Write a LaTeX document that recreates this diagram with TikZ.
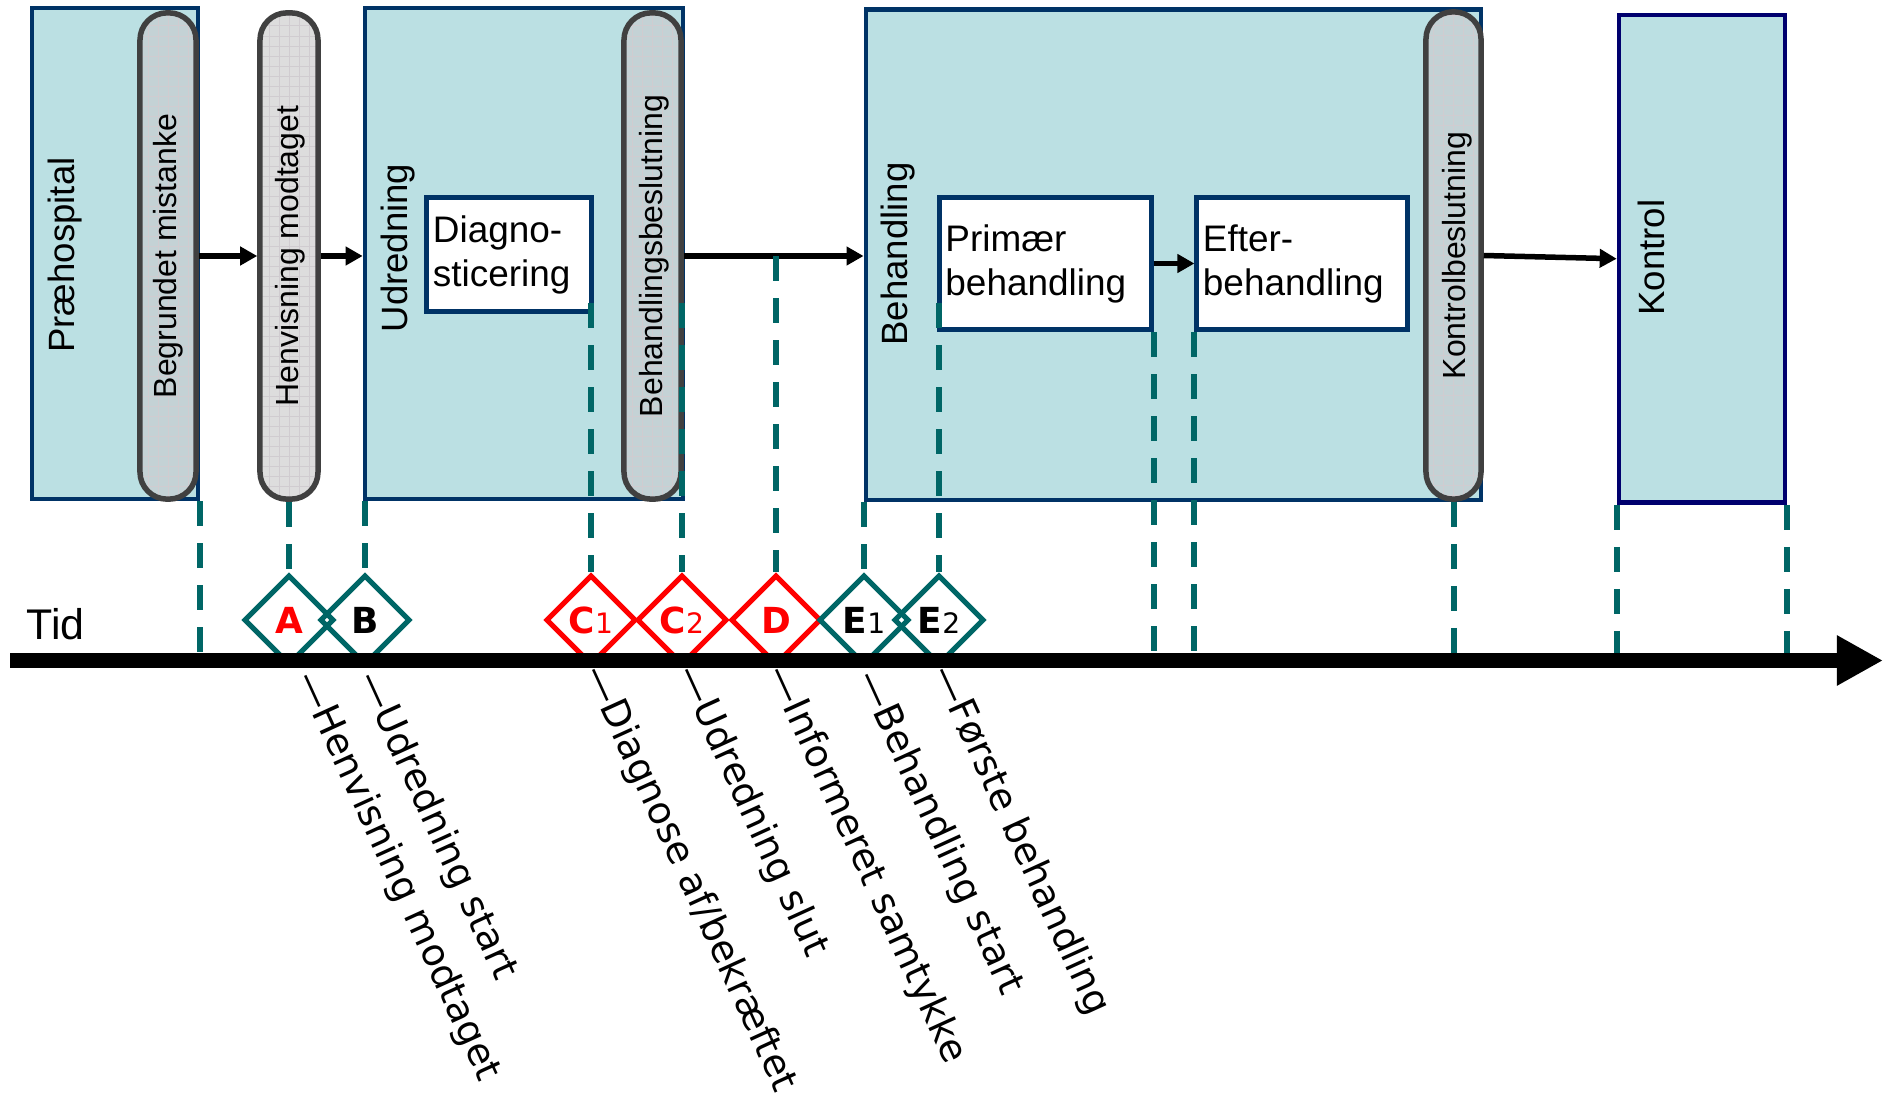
\documentclass[tikz,border=0pt]{standalone}
\usepackage{fontspec}
\setmainfont{Liberation Sans}
\newfontfamily\dejavu{DejaVu Sans}
\usetikzlibrary{shapes.geometric, arrows.meta, calc}

\definecolor{phasefill}{RGB}{187,224,227}
\definecolor{phaseline}{RGB}{0,51,102}
\definecolor{kontrolline}{RGB}{0,0,110}
\definecolor{gatefill}{RGB}{196,210,213}
\definecolor{gatelight}{RGB}{221,221,221}
\definecolor{gateline}{RGB}{64,64,64}
\definecolor{gridline}{RGB}{208,204,208}
\definecolor{msteal}{RGB}{0,102,102}
\definecolor{msred}{RGB}{255,0,0}

\newcommand{\msidx}[1]{{\fontsize{8}{8}\selectfont\mdseries #1}}

\begin{document}
\begin{tikzpicture}[x=0.01cm, y=-0.01cm,
	phase/.style={rectangle, draw=phaseline, fill=phasefill, line width=0.045cm},
	task/.style={rectangle, draw=phaseline, fill=white, line width=0.05cm, align=left, inner xsep=0.06cm, inner ysep=0, font=\fontsize{10.5}{12.5}\selectfont},
	gate/.style={rectangle, draw=gateline, fill=gatefill, line width=0.055cm, rounded corners=0.27cm,
		path picture={\draw[gridline, line width=0.2pt, step=0.1cm] (path picture bounding box.south west) grid (path picture bounding box.north east);}},
	vlabel/.style={rotate=90, inner sep=0, font=\fontsize{10.4}{12}\selectfont},
	glabel/.style={rotate=90, inner sep=0, font=\fontsize{9.1}{11}\selectfont},
	flow/.style={line width=0.055cm, -{Triangle[length=0.17cm, width=0.18cm]}},
	timeline/.style={line width=0.15cm, -{Triangle[length=0.46cm, width=0.47cm]}},
	guide/.style={draw=msteal, line width=0.06cm, dash pattern=on 0.25cm off 0.17cm},
	ms/.style={diamond, draw=msteal, line width=0.05cm, minimum width=0.9cm, minimum height=0.9cm, inner sep=0, font=\dejavu\bfseries\fontsize{10.2}{12}\selectfont},
	msr/.style={ms, draw=msred, text=msred},
	evlabel/.style={rotate=-65.5, anchor=west, inner sep=0, font=\dejavu\fontsize{10.75}{13}\selectfont}
]

\useasboundingbox (0, 0) rectangle (1890, 1097);

\node(0) [phase, minimum width=1.66cm, minimum height=4.91cm] at (115, 253.5) {};
\node(0t) [vlabel] at (65, 255) {Præhospital};
\node(1) [gate, minimum width=0.56cm, minimum height=4.86cm] at (168, 256) {};
\node(1t) [glabel] at (168, 256) {Begrundet mistanke};

\node(2) [gate, fill=gatelight, minimum width=0.58cm, minimum height=4.86cm] at (289, 256) {};
\node(2t) [glabel] at (290, 256) {Henvisning modtaget};

\node(3) [phase, minimum width=3.18cm, minimum height=4.91cm] at (524, 253.5) {};
\node(3t) [vlabel] at (398, 248) {Udredning};
\node(4) [task, text width=1.52cm, minimum height=1.14cm] at (509, 254.5) {Diagno-\\sticering};
\node(5) [gate, minimum width=0.57cm, minimum height=4.86cm] at (652.5, 256) {};
\node(5t) [glabel] at (654, 256) {Behandlingsbeslutning};

\node(6) [phase, minimum width=6.15cm, minimum height=4.905cm] at (1173.5, 254.75) {};
\node(6t) [vlabel] at (898, 254) {Behandling};
\node(7) [task, text width=1.995cm, minimum height=1.32cm] at (1045.25, 263.5) {Primær\\behandling};
\node(8) [task, text width=1.98cm, minimum height=1.32cm] at (1302, 263.5) {Efter-\\behandling};
\node(9) [gate, minimum width=0.55cm, minimum height=4.87cm] at (1453.5, 255.5) {};
\node(9t) [glabel] at (1457, 255.5) {Kontrolbeslutning};

\node(10) [phase, draw=kontrolline, minimum width=1.66cm, minimum height=4.875cm] at (1702, 258.75) {};
\node(10t) [vlabel] at (1651, 257.5) {Kontrol};

\draw [flow] (1.east) -- (2.west);
\draw [flow] (2.east) -- (2.east -| 3.west);
\draw [flow] (5.east) -- (5.east -| 6.west);
\draw [flow] (7.east) -- (8.west);
\draw [flow] (9.east) -- (10.west);

\coordinate (t0) at (10, 660.5);
\coordinate (t1) at (1883, 660.5);
\coordinate (tl) at (0, 653);
\coordinate (gtop) at (0, 303);

\node(A) [ms, text=msred] at (289, 620) {A};
\node(B) [ms] at (365, 620) {B};
\node(C1) [msr] at (591, 620) {C\msidx{1}};
\node(C2) [msr] at (682, 620) {C\msidx{2}};
\node(D) [msr] at (776, 620) {D};
\node(E1) [ms] at (864, 620) {E\msidx{1}};
\node(E2) [ms] at (939, 620) {E\msidx{2}};

\coordinate (dtop) at (D.north |- 5.east);
\draw [guide] (0.south east) -- (0.south east |- tl);
\draw [guide] (2.south) -- (A.north);
\draw [guide] (B.north |- 3.south) -- (B.north);
\draw [guide] (C1.north |- gtop) -- (C1.north);
\draw [guide] (C2.north |- gtop) -- (C2.north);
\draw [guide] (dtop) -- (D.north);
\draw [guide] (E1.north |- 6.south) -- (E1.north);
\draw [guide] (E2.north |- gtop) -- (E2.north);
\draw [guide] (7.south east) -- (7.south east |- tl);
\draw [guide] (8.south west) -- (8.south west |- tl);
\draw [guide] (9.south) -- (9.south |- tl);
\draw [guide] (10.south west) -- (10.south west |- tl);
\draw [guide] (10.south east) -- (10.south east |- tl);

\node(tid) [anchor=base west, inner sep=0, font=\fontsize{12.2}{14}\selectfont] at (26, 639) {Tid};
\draw [timeline] (t0) -- (t1);

\node(lA) [evlabel] at ([shift={(16, 6)}]A.south) {—Henvisning modtaget};
\node(lB) [evlabel] at ([shift={(2, 6)}]B.south) {—Udredning start};
\node(lC1) [evlabel] at ([shift={(2, 0)}]C1.south) {—Diagnose af/bekræftet};
\node(lC2) [evlabel] at ([shift={(4, 0)}]C2.south) {—Udredning slut};
\node(lD) [evlabel] at (D.south) {—Informeret samtykke};
\node(lE1) [evlabel] at ([shift={(2, 5)}]E1.south) {—Behandling start};
\node(lE2) [evlabel] at ([shift={(2, 0)}]E2.south) {—Første behandling};

\end{tikzpicture}
\end{document}
